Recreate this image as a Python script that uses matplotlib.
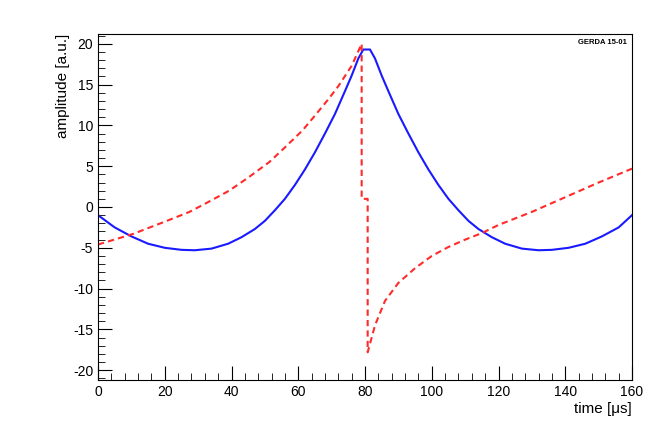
import numpy as np
import matplotlib
matplotlib.use('Agg')
import matplotlib.pyplot as plt
from matplotlib.ticker import MultipleLocator

plt.rcParams['font.family'] = ['Liberation Sans', 'DejaVu Sans']
plt.rcParams['axes.unicode_minus'] = False

# blue signal (solid)
t_blue = [0, 5, 10, 15, 20, 25, 29, 34, 39, 43, 47, 50, 53, 56, 59, 62, 65, 68, 71, 74, 76, 78, 79.5,
          81.5, 83, 85, 87, 90, 93, 96, 99, 102, 105, 108, 111, 114, 118, 122, 127, 132, 136, 141, 146, 151, 156, 160]
a_blue = [-1.0, -2.5, -3.6, -4.5, -5.0, -5.25, -5.3, -5.1, -4.5, -3.7, -2.7, -1.7, -0.4, 1.0, 2.7, 4.6, 6.7, 9.0, 11.4, 14.2, 16.1, 18.2, 19.3,
          19.3, 18.2, 16.1, 14.2, 11.4, 9.0, 6.7, 4.6, 2.7, 1.0, -0.4, -1.7, -2.7, -3.7, -4.5, -5.1, -5.3, -5.25, -5.0, -4.5, -3.6, -2.5, -1.0]

# red signal (dashed)
t_red = [0, 10.5, 20, 27.4, 33, 39.3, 45, 51.3, 56, 61.3, 65, 69.2, 72, 76, 79, 79, 80.8, 80.8,
         83, 86, 90, 95, 100, 105, 110, 115, 120, 130, 140, 150, 160]
a_red = [-4.6, -3.3, -1.8, -0.6, 0.6, 2.0, 3.6, 5.5, 7.3, 9.4, 11.2, 13.3, 14.8, 17.3, 20.0, 1.0, 1.0, -17.8,
         -14.5, -11.5, -9.3, -7.5, -6.0, -4.9, -4.0, -3.2, -2.2, -0.6, 1.2, 3.0, 4.7]

fig = plt.figure(figsize=(6.56, 4.29), dpi=100)
ax = fig.add_axes([98/656, 1-380/429, 534/656, 346/429])
ax.plot(t_blue, a_blue, color='#1a1aff', lw=1.5)
ax.plot(t_red, a_red, color='#ff2a2a', lw=1.5, ls=(0, (3, 2)))

ax.set_xlim(0, 160)
ax.set_ylim(-21.2, 21.2)
ax.set_xticks(np.arange(0, 161, 20))
ax.set_yticks(np.arange(-20, 21, 5))
ax.xaxis.set_minor_locator(MultipleLocator(4))
ax.yaxis.set_minor_locator(MultipleLocator(1))
ax.tick_params(which='both', direction='in', top=False, right=False, labelsize=10)
ax.tick_params(which='major', length=10)
ax.tick_params(which='minor', length=5)
ax.set_xlabel('time [μs]', fontsize=11, loc='right', labelpad=2)
ax.set_ylabel('amplitude [a.u.]', fontsize=11, loc='top', labelpad=2)
ax.text(0.99, 0.985, 'GERDA 15-01', transform=ax.transAxes, ha='right', va='top',
        fontsize=5.5, fontweight='bold')

fig.savefig('out.png', dpi=100)
